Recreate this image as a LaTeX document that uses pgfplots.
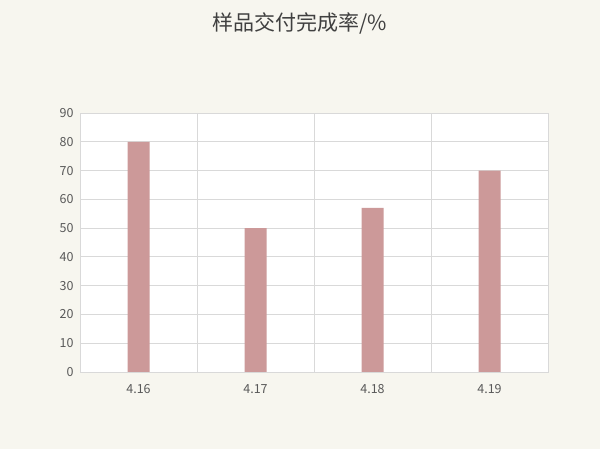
\documentclass[border=0pt]{standalone}
\usepackage{pgfplots}
\pgfplotsset{compat=1.18}
\usepackage{fontspec}
\setmainfont{Noto Sans CJK SC}
\definecolor{bgc}{HTML}{F7F6EF}
\definecolor{barc}{HTML}{CC9999}
\definecolor{gridc}{HTML}{D9D9D9}
\definecolor{txtc}{HTML}{595959}
\begin{document}
\begin{tikzpicture}[x=1pt,y=1pt]
  \fill[bgc] (0,0) rectangle (600,449);
  \node[text=black!75, font=\fontsize{21}{24}\selectfont] at (300,426) {样品交付完成率/\%};
  \begin{axis}[
    at={(80pt,77pt)}, anchor=south west,
    scale only axis, width=468pt, height=259pt,
    axis background/.style={fill=white},
    ymin=0, ymax=90, ytick={0,10,...,90},
    xmin=-0.5, xmax=3.5,
    xtick={0,1,2,3},
    xticklabels={4.16,4.17,4.18,4.19},
    minor xtick={0.5,1.5,2.5},
    ymajorgrids, minor x grid style={gridc, line width=0.8pt}, xminorgrids,
    grid style={gridc, line width=0.8pt},
    axis line style={gridc, line width=0.8pt},
    major tick length=0pt, minor tick length=0pt,
    tick style={draw=none},
    ticklabel style={text=txtc, font=\fontsize{12.5}{14}\selectfont},
    /pgf/number format/assume math mode=true,
    yticklabel style={xshift=-3pt},
    xticklabel style={yshift=-9pt},
    ybar, bar width=22pt,
  ]
    \addplot[fill=barc, draw=none] coordinates {(0,80) (1,50) (2,57) (3,70)};
  \end{axis}
\end{tikzpicture}
\end{document}
